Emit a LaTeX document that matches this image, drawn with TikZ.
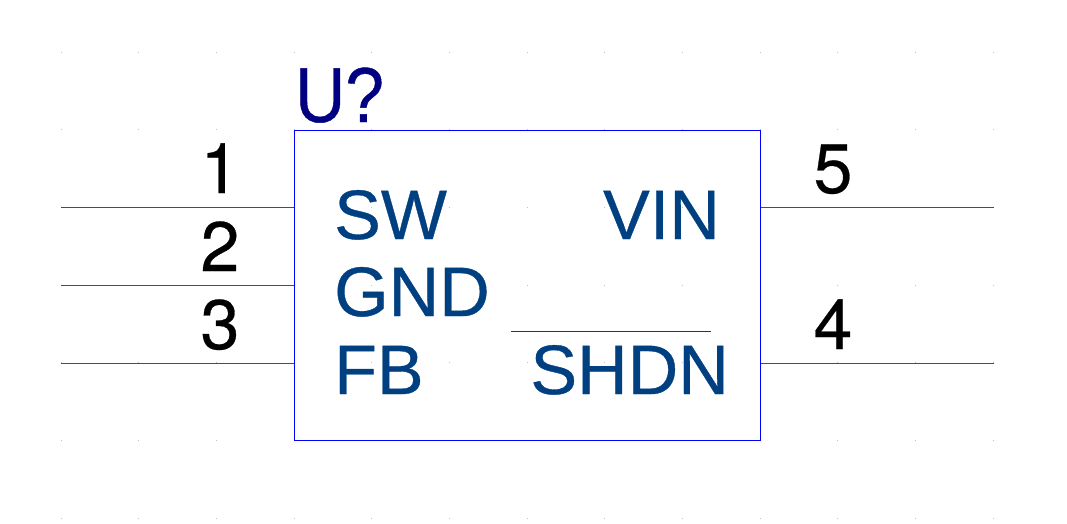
\documentclass[tikz,border=0pt]{standalone}
\usepackage{fontspec}
\setmainfont[FakeBold=0.5]{Liberation Sans}
\newfontfamily\numfont[FakeBold=0.4]{TeX Gyre Heros}
\newfontfamily\reffont[FakeStretch=0.89,FakeBold=0.5]{Liberation Sans}
\definecolor{pintext}{HTML}{004080}
\definecolor{reftext}{HTML}{000080}
\definecolor{griddot}{HTML}{C0C0C0}

\begin{document}
\begin{tikzpicture}[x=1pt,y=-1pt,
    pinline/.style={red,line width=1pt},
    pinname/.style={text=pintext,font=\fontsize{70}{70}\selectfont,inner sep=0pt},
    pinnum/.style={text=black,font=\numfont\fontsize{70}{70}\selectfont,inner sep=0pt,anchor=base},
    refname/.style={text=reftext,font=\reffont\fontsize{78}{78}\selectfont,inner sep=0pt,anchor=base west},
    body/.style={draw=blue,line width=1pt,inner sep=0pt,minimum width=466pt,minimum height=310pt}]
                \useasboundingbox (0,0) rectangle (1067,523);

                % grid
                \foreach \i in {0,...,12}
                    \foreach \j in {0,...,6}
                        \fill [griddot] (60.5+77.67*\i,51.5+77.67*\j) rectangle ++(1,1);

                \node [body] (chip) at (527.5,285.5) {};
                \node [refname] (ref) at (295,122) {U?};

                \coordinate (pin1) at (61,207.5);
                \coordinate (pin2) at (61,285.5);
                \coordinate (pin3) at (61,363.5);
                \coordinate (pin5) at (994,207.5);
                \coordinate (pin4) at (994,363.5);
                \draw [pinline] (pin1)--(pin1 -| chip.west);
                \draw [pinline] (pin2)--(pin2 -| chip.west);
                \draw [pinline] (pin3)--(pin3 -| chip.west);
                \draw [pinline] (pin5)--(pin5 -| chip.east);
                \draw [pinline] (pin4)--(pin4 -| chip.east);

                \node [pinnum] (num1) at (220,193) {1};
                \node [pinnum] (num2) at (220,271) {2};
                \node [pinnum] (num3) at (220,349) {3};
                \node [pinnum] (num5) at (833,193) {5};
                \node [pinnum] (num4) at (833,349) {4};

                \node [pinname,anchor=base west] (sw) at (334,239) {SW};
                \node [pinname,anchor=base west] (gnd) at (334,316) {GND};
                \node [pinname,anchor=base west] (fb) at (334,394) {FB};
                \node [pinname,anchor=base east] (vin) at (720,239) {VIN};
                \node [pinname,anchor=base east] (shdn) at (729,394) {SHDN};

                \coordinate (barl) at (511,331);
                \coordinate (barr) at (711,331);
                \draw [pintext,line width=1pt] (barl)--(barr);
\end{tikzpicture}
\end{document}
